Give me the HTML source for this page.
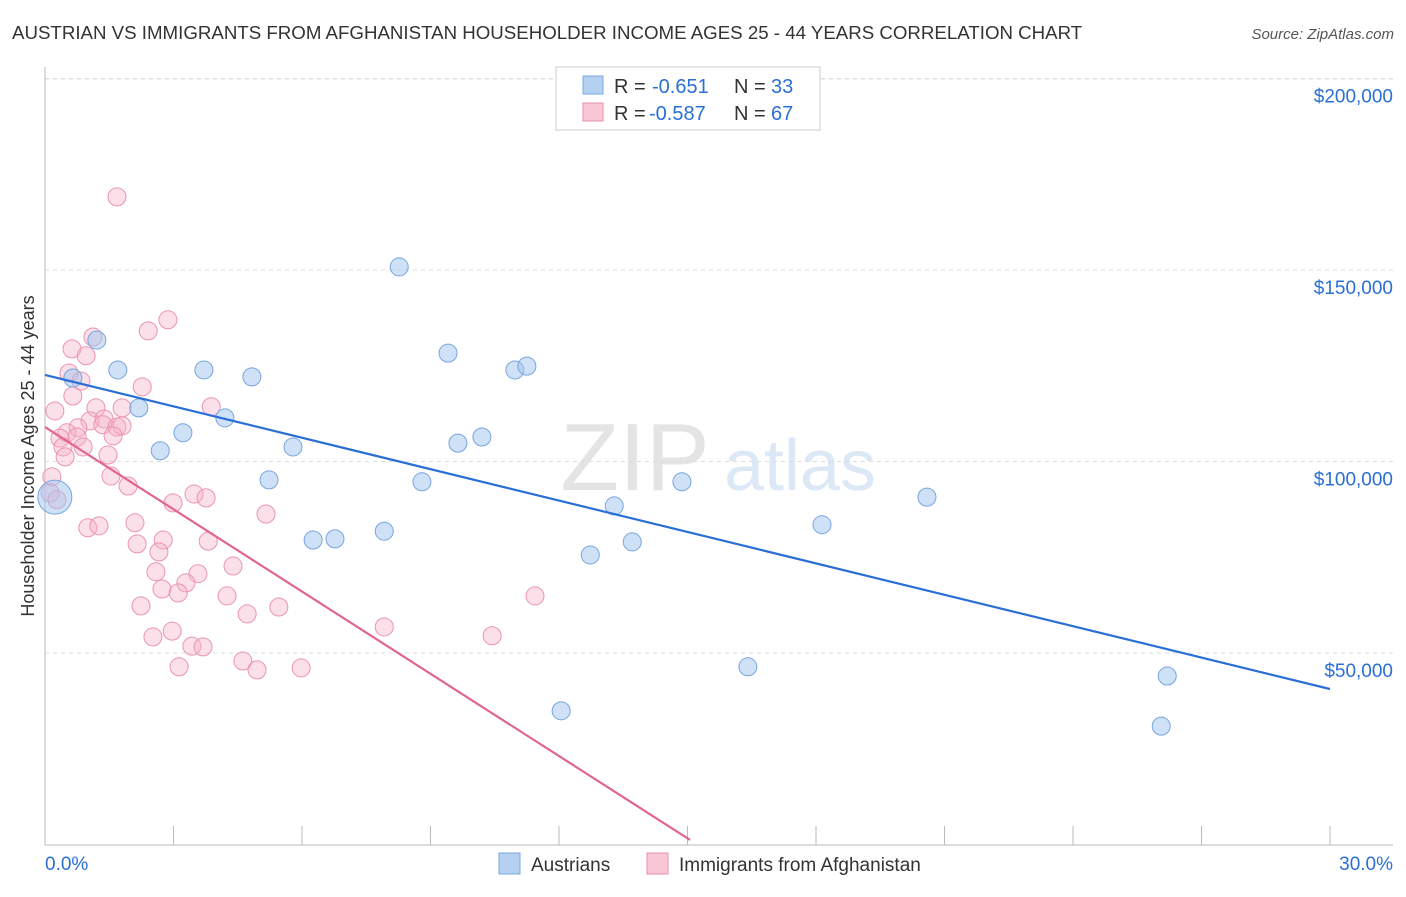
<!DOCTYPE html>
<html><head><meta charset="utf-8"><style>
body{margin:0;background:#fff;font-family:"Liberation Sans",sans-serif;}
svg text{font-family:"Liberation Sans",sans-serif;}
</style></head><body>
<svg id="chart" width="1406" height="892" viewBox="0 0 1406 892" xmlns="http://www.w3.org/2000/svg">
<text x="12" y="39" font-size="18.7" fill="#333">AUSTRIAN VS IMMIGRANTS FROM AFGHANISTAN HOUSEHOLDER INCOME AGES 25 - 44 YEARS CORRELATION CHART</text>
<text x="1394" y="39" font-size="15" fill="#555" font-style="italic" text-anchor="end">Source: ZipAtlas.com</text>
<text x="635" y="490" font-size="96" fill="#e4e4e4" font-family="Liberation Serif" text-anchor="middle">ZIP</text>
<text x="800" y="490" font-size="72" fill="#dde8f6" text-anchor="middle">atlas</text>
<g id="grid"></g><g id="axes"></g><g id="points"></g><g id="lines"></g>
<text transform="translate(34,456) rotate(-90)" font-size="18" fill="#333" text-anchor="middle">Householder Income Ages 25 - 44 years</text>
<g>
<rect x="556" y="67" width="264" height="63" fill="#fff" stroke="#ccc"/>
<rect x="583" y="76" width="20" height="18" fill="#b6d0f2" stroke="#7aa8e0"/>
<text x="614" y="93" font-size="20" fill="#333">R =</text>
<text x="652" y="93" font-size="20" fill="#2a6fd6">-0.651</text>
<text x="734" y="93" font-size="20" fill="#333">N =</text>
<text x="771" y="93" font-size="20" fill="#2a6fd6">33</text>
<rect x="583" y="103" width="20" height="18" fill="#f8c6d4" stroke="#e890aa"/>
<text x="614" y="120" font-size="20" fill="#333">R =</text>
<text x="649" y="120" font-size="20" fill="#2a6fd6">-0.587</text>
<text x="734" y="120" font-size="20" fill="#333">N =</text>
<text x="771" y="120" font-size="20" fill="#2a6fd6">67</text>
</g>
<g><rect x="499" y="853" width="21" height="21" fill="#b6d0f2" stroke="#7aa8e0"/><text x="531" y="871" font-size="19" fill="#333">Austrians</text></g>
<g><rect x="647" y="853" width="21" height="21" fill="#f8c6d4" stroke="#e890aa"/><text x="679" y="871" font-size="19" fill="#333">Immigrants from Afghanistan</text></g>
</svg>
<script>
const blueX=[0.23,1.21,0.65,1.70,2.19,2.69,3.22,3.71,4.20,4.83,5.79,5.23,6.26,6.77,7.92,8.27,8.80,9.41,9.64,10.20,10.97,11.25,12.05,12.73,13.29,13.71,14.87,16.41,18.14,20.59,26.20,26.06];
const blueY=[90.7,131.7,121.8,123.9,114.0,102.8,107.5,123.9,111.4,122.1,103.8,95.2,79.5,79.8,81.8,150.8,94.7,128.3,104.8,106.4,123.9,124.9,34.9,75.6,88.4,79.0,94.7,46.4,83.5,90.7,44.0,30.9];
const pinkX=[1.68,2.87,2.41,1.12,0.63,0.96,0.56,0.84,0.65,2.27,0.23,1.19,1.80,3.88,1.05,1.38,1.35,1.68,1.80,1.59,0.77,0.51,0.35,0.75,0.42,0.89,0.47,1.47,1.54,1.94,0.16,0.12,0.28,2.99,3.48,3.76,1.00,1.26,2.10,5.16,2.15,2.76,2.66,3.81,2.59,3.57,3.29,2.73,3.11,4.39,4.25,2.24,4.72,5.46,2.52,2.97,3.43,3.69,4.62,3.13,4.95,5.98,7.92,10.44,11.44];
const pinkY=[169.1,137.0,134.1,132.5,129.4,127.6,123.1,121.0,117.1,119.5,113.2,114.0,114.0,114.3,110.6,111.1,109.6,109.0,109.3,106.7,108.8,107.5,106.1,106.4,103.8,103.8,101.2,101.7,96.2,93.6,96.0,91.8,90.0,89.2,91.5,90.5,82.7,83.2,84.0,86.3,78.5,79.5,76.4,79.2,71.2,70.7,68.3,66.7,65.7,72.7,64.9,62.3,60.2,62.0,54.2,55.7,51.8,51.6,47.9,46.4,45.6,46.1,56.8,54.5,64.9];
const blueTrend=[0,122.6,30,40.6];
const pinkTrend=[0,109.0,15.06,1.2];
const yTicks=[50,100,150,200];
const yTickLabels=["$50,000","$100,000","$150,000","$200,000"];
const xTicks=[0,3,6,9,12,15,18,21,24,27,30];
const NS="http://www.w3.org/2000/svg";
const sx=v=>45+v*1285/30, sy=v=>844.5-v*191.5/50;
function mk(tag,attrs,parent){const e=document.createElementNS(NS,tag);for(const k in attrs)e.setAttribute(k,attrs[k]);document.getElementById(parent).appendChild(e);return e;}
yTicks.forEach((t,i)=>{
 const l=mk('line',{x1:45,x2:1393,y1:sy(t),y2:sy(t),stroke:'#ddd','stroke-dasharray':'4,4'},'grid');
 
 
 const tx=mk('text',{x:1393,y:sy(t)+24,'font-size':19,fill:'#2a6fd6','text-anchor':'end'},'grid');
 tx.textContent=yTickLabels[i];
 
 
});
const topGrid=mk('line',{x1:45,x2:1393,y1:79,y2:79,stroke:'#ddd','stroke-dasharray':'4,4'},'grid');


const ya=mk('line',{x1:45,x2:45,y1:67,y2:845,stroke:'#bbb'},'axes');


const xa=mk('line',{x1:45,x2:1393,y1:845,y2:845,stroke:'#bbb'},'axes');


xTicks.forEach(t=>{const k=mk('line',{x1:sx(t),x2:sx(t),y1:826,y2:845,stroke:'#bbb'},'axes');
 
 });
const xl0=mk('text',{x:45,y:870,'font-size':19,fill:'#2a6fd6'},'axes');xl0.textContent=xTicks[0].toFixed(1)+'%';


const xl1=mk('text',{x:1393,y:870,'font-size':19,fill:'#2a6fd6','text-anchor':'end'},'axes');xl1.textContent=xTicks[xTicks.length-1].toFixed(1)+'%';


pinkX.forEach((x,i)=>{const c=mk('circle',{cx:sx(x),cy:sy(pinkY[i]),r:9,fill:'rgba(246,178,200,0.4)',stroke:'#eb94ae','stroke-width':1},'points');
 
 });
blueX.forEach((x,i)=>{const c=mk('circle',{cx:sx(x),cy:sy(blueY[i]),r:i===0?17:9,fill:'rgba(160,196,240,0.5)',stroke:'#76a5e0','stroke-width':1},'points');
 
 });
const bl=mk('line',{x1:sx(blueTrend[0]),y1:sy(blueTrend[1]),x2:sx(blueTrend[2]),y2:sy(blueTrend[3]),stroke:'#2a6fd6','stroke-width':2.2},'lines');


const pl=mk('line',{x1:sx(pinkTrend[0]),y1:sy(pinkTrend[1]),x2:sx(pinkTrend[2]),y2:sy(pinkTrend[3]),stroke:'#e0668e','stroke-width':2.2},'lines');


</script>
</body></html>
